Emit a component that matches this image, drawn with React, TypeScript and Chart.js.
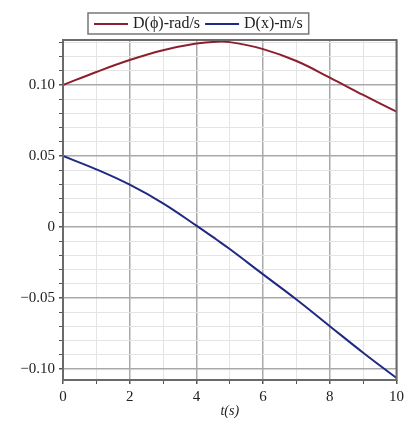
import React, { useEffect, useRef } from "react";
import { Chart, registerables } from "chart.js";

Chart.register(...registerables);

const tValues = [0, 1, 2, 3, 4, 4.6, 5, 6, 7, 8, 9, 10];
const dPhi = [0.1, 0.1092, 0.1176, 0.1245, 0.1292, 0.1305, 0.1302, 0.1253, 0.1169, 0.1052, 0.093, 0.0812];
const dX = [0.05, 0.0406, 0.0298, 0.0167, 0.001, -0.0088, -0.0155, -0.0333, -0.051, -0.0698, -0.0885, -0.1063];
const seriesLabels = ["D(\u03d5)-rad/s", "D(x)-m/s"];
const seriesColors = ["#8c1f2e", "#1f2b82"];
const xTitle = "t(s)";

const SERIF = "'Liberation Serif', 'DejaVu Serif', serif";

const isMult = (v: number, s: number) => Math.abs(v / s - Math.round(v / s)) < 1e-6;

const framePlugin = {
  id: "frame",
  afterDatasetsDraw(chart: any) {
    const { ctx, chartArea } = chart;
    ctx.save();
    ctx.strokeStyle = "#6a6a6a";
    ctx.lineWidth = 2;
    ctx.strokeRect(chartArea.left, chartArea.top, chartArea.right - chartArea.left, chartArea.bottom - chartArea.top);
    ctx.restore();
  },
};

const legendPlugin = {
  id: "boxLegend",
  afterDraw(chart: any) {
    const { ctx } = chart;
    ctx.save();
    ctx.font = `16px ${SERIF}`;
    const lineLen = 34;
    const gapLineText = 5;
    const gapItems = 5;
    const padX = 6;
    const widths = seriesLabels.map((l) => ctx.measureText(l).width);
    let total = padX * 2;
    widths.forEach((w, i) => {
      total += lineLen + gapLineText + w + (i < widths.length - 1 ? gapItems : 0);
    });
    const boxLeft = 88;
    const boxTop = 13;
    const boxH = 21;
    ctx.fillStyle = "#ffffff";
    ctx.fillRect(boxLeft, boxTop, total, boxH);
    ctx.strokeStyle = "#777777";
    ctx.lineWidth = 1.5;
    ctx.strokeRect(boxLeft, boxTop, total, boxH);
    let x = boxLeft + padX;
    const cy = boxTop + boxH / 2 + 0.5;
    seriesLabels.forEach((l, i) => {
      ctx.strokeStyle = seriesColors[i];
      ctx.lineWidth = 2;
      ctx.beginPath();
      ctx.moveTo(x, cy);
      ctx.lineTo(x + lineLen, cy);
      ctx.stroke();
      x += lineLen + gapLineText;
      ctx.fillStyle = "#222222";
      ctx.textBaseline = "middle";
      ctx.textAlign = "left";
      ctx.fillText(l, x, cy);
      x += widths[i] + gapItems;
    });
    ctx.restore();
  },
};

export default function App() {
  const ref = useRef<HTMLCanvasElement>(null);
  useEffect(() => {
    document.body.style.margin = "0";
    const chart = new Chart(ref.current!, {
      type: "line",
      data: {
        datasets: [
          {
            label: seriesLabels[0],
            data: tValues.map((t, i) => ({ x: t, y: dPhi[i] })),
            borderColor: seriesColors[0],
            borderWidth: 2,
            pointRadius: 0,
            tension: 0.4,
          },
          {
            label: seriesLabels[1],
            data: tValues.map((t, i) => ({ x: t, y: dX[i] })),
            borderColor: seriesColors[1],
            borderWidth: 2,
            pointRadius: 0,
            tension: 0.4,
          },
        ],
      },
      options: {
        animation: false,
        responsive: false,
        layout: { padding: { top: 40, left: 0, right: 9, bottom: 0 } },
        plugins: { legend: { display: false }, tooltip: { enabled: false } },
        scales: {
          x: {
            type: "linear",
            min: 0,
            max: 10,
            border: { display: false },
            ticks: {
              stepSize: 1,
              includeBounds: false,
              maxRotation: 0,
              autoSkip: false,
              padding: 4,
              color: "#222",
              font: { family: SERIF, size: 15 },
              callback: (v: any) => (isMult(Number(v), 2) ? String(v) : ""),
            },
            grid: {
              color: (c: any) => (isMult(c.tick.value, 2) ? "#a9a9a9" : "#e4e4e4"),
              lineWidth: (c: any) => (isMult(c.tick.value, 2) ? 1.5 : 1),
              tickColor: "#555",
              tickLength: 4,
            },
            title: {
              display: true,
              text: xTitle,
              color: "#222",
              font: { family: SERIF, size: 14, style: "italic" },
              padding: { top: 0, bottom: 1 },
            },
            afterFit: (s: any) => {
              s.height = 41;
            },
          },
          y: {
            type: "linear",
            min: -0.1077,
            max: 0.1317,
            border: { display: false },
            ticks: {
              stepSize: 0.01,
              includeBounds: false,
              autoSkip: false,
              padding: 4,
              color: "#222",
              font: { family: SERIF, size: 15 },
              callback: (v: any) => {
                const n = Number(v);
                if (!isMult(n, 0.05)) return "";
                if (Math.abs(n) < 1e-9) return "0";
                const s = Math.abs(n).toFixed(2);
                return n < 0 ? "\u2212" + s : s;
              },
            },
            grid: {
              color: (c: any) => (isMult(c.tick.value, 0.05) ? "#a9a9a9" : "#e4e4e4"),
              lineWidth: (c: any) => (isMult(c.tick.value, 0.05) ? 1.5 : 1),
              tickColor: "#555",
              tickLength: 4,
            },
            afterFit: (s: any) => {
              s.width = 63;
            },
          },
        },
      },
      plugins: [framePlugin, legendPlugin],
    });
    return () => chart.destroy();
  }, []);
  return (
    <div style={{ position: "fixed", left: 0, top: 0, width: 408, height: 421 }}>
      <canvas ref={ref} width={408} height={421} style={{ width: 408, height: 421 }} />
    </div>
  );
}
